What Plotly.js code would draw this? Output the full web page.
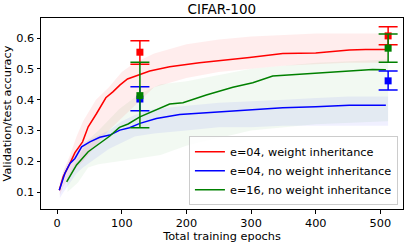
<!DOCTYPE html>
<html>
<head>
<meta charset="utf-8">
<script src="https://cdn.plot.ly/plotly-3.0.1.min.js"></script>
<style>html,body{margin:0;padding:0;background:#fff}#chart{width:407px;height:244px}</style>
</head>
<body>
<div id="chart"></div>
<script>
// Mean curves
const redX = [3.3, 9.4, 19.8, 27.5, 39.3, 48, 61, 75.3, 86.6, 96.9, 108.8, 122.7, 143.2, 174, 220, 297.5, 349, 400, 452, 477, 508.5];
const redY = [0.106, 0.150, 0.193, 0.228, 0.263, 0.312, 0.355, 0.406, 0.426, 0.447, 0.467, 0.477, 0.493, 0.507, 0.520, 0.537, 0.550, 0.551, 0.561, 0.563, 0.563];
const blueX = [3.3, 12, 19.8, 27.5, 37.8, 50.6, 66, 81.5, 97, 112, 128, 153.5, 189.5, 246, 302.6, 349, 400, 452, 508.5];
const blueY = [0.106, 0.161, 0.193, 0.209, 0.247, 0.263, 0.278, 0.285, 0.301, 0.309, 0.323, 0.339, 0.352, 0.359, 0.368, 0.374, 0.377, 0.382, 0.382];
const greenX = [14.7, 30, 48, 66, 81.5, 96.3, 109.8, 128, 153.5, 174, 194.6, 230.7, 271.8, 302.6, 333.5, 374.7, 400, 452, 487.8, 508.5];
const greenY = [0.133, 0.188, 0.231, 0.258, 0.282, 0.310, 0.321, 0.344, 0.366, 0.386, 0.390, 0.415, 0.440, 0.455, 0.477, 0.483, 0.487, 0.493, 0.498, 0.497];

// Spread of individual runs (faint clouds)
const cloudX = [4, 10, 20, 30, 40, 60, 80, 100, 120, 150, 200, 250, 300, 350, 400, 450, 512];
const redUpper = [0.12, 0.17, 0.22, 0.28, 0.33, 0.40, 0.44, 0.49, 0.52, 0.55, 0.58, 0.595, 0.605, 0.61, 0.615, 0.615, 0.615];
const redLower = [0.09, 0.12, 0.15, 0.18, 0.20, 0.25, 0.30, 0.34, 0.38, 0.44, 0.47, 0.49, 0.50, 0.51, 0.515, 0.52, 0.52];
const blueUpper = [0.13, 0.17, 0.21, 0.24, 0.26, 0.28, 0.30, 0.33, 0.35, 0.37, 0.38, 0.39, 0.395, 0.40, 0.405, 0.41, 0.41];
const blueLower = [0.08, 0.10, 0.13, 0.16, 0.18, 0.21, 0.24, 0.26, 0.28, 0.29, 0.30, 0.31, 0.31, 0.315, 0.315, 0.315, 0.315];
const greenCloudX = [16, 32, 48, 64, 96, 128, 160, 200, 300, 400, 512];
const greenUpper = [0.15, 0.21, 0.27, 0.30, 0.37, 0.42, 0.45, 0.46, 0.50, 0.52, 0.53];
const greenLower = [0.10, 0.13, 0.18, 0.19, 0.20, 0.21, 0.22, 0.25, 0.30, 0.32, 0.33];

// Final validation/test points with error bars
const evalX = [128, 512];
const redEval = [0.554, 0.607];
const redErrUp = [0.037, 0.030];
const redErrDown = [0.039, 0.029];
const blueEval = [0.402, 0.461];
const blueErrUp = [0.040, 0.032];
const blueErrDown = [0.038, 0.030];
const greenEval = [0.413, 0.567];
const greenErrUp = [0.108, 0.046];
const greenErrDown = [0.104, 0.046];

const labels = ["e=04, weight inheritance", "e=04, no weight inheritance", "e=16, no weight inheritance"];
const colors = ["#ff0000", "#0000ff", "#008000"];

function band(x, lo, hi, color) {
  return {
    x: x.concat(x.slice().reverse()),
    y: hi.concat(lo.slice().reverse()),
    fill: "toself", fillcolor: color, mode: "none",
    line: {width: 0}, hoverinfo: "skip", showlegend: false, type: "scatter"
  };
}
function evalTrace(y, up, down, color) {
  return {
    x: evalX, y: y, mode: "markers", type: "scatter", showlegend: false,
    marker: {symbol: "square", size: 7, color: color},
    error_y: {type: "data", array: up, arrayminus: down, color: color, thickness: 1.5, width: 9.5}
  };
}

const traces = [
  band(greenCloudX, greenLower, greenUpper, "rgba(0,128,0,0.05)"),
  band(cloudX, blueLower, blueUpper, "rgba(0,0,255,0.06)"),
  band(cloudX, redLower, redUpper, "rgba(255,0,0,0.07)"),
  {x: redX, y: redY, mode: "lines", type: "scatter", name: labels[0], line: {color: colors[0], width: 1.5}},
  {x: blueX, y: blueY, mode: "lines", type: "scatter", name: labels[1], line: {color: colors[1], width: 1.5}},
  {x: greenX, y: greenY, mode: "lines", type: "scatter", name: labels[2], line: {color: colors[2], width: 1.5}},
  evalTrace(redEval, redErrUp, redErrDown, colors[0]),
  evalTrace(blueEval, blueErrUp, blueErrDown, colors[1]),
  evalTrace(greenEval, greenErrUp, greenErrDown, colors[2])
];

const font = "DejaVu Sans, sans-serif";
const fs = 11.3;
const layout = {
  width: 407, height: 244,
  margin: {l: 41, r: 4, t: 18, b: 35, pad: 0},
  paper_bgcolor: "#fff", plot_bgcolor: "#fff",
  font: {family: font, size: fs, color: "#000"},
  title: {text: "CIFAR-100", font: {family: font, size: 13.5, color: "#000"}, x: 0.545, xanchor: "center", y: 0.962, yanchor: "middle"},
  xaxis: {
    range: [-25, 535], tickvals: [0, 100, 200, 300, 400, 500], ticktext: ["0", "100", "200", "300", "400", "500"],
    ticks: "outside", ticklen: 3.5, tickcolor: "#000", tickwidth: 1,
    showline: true, linecolor: "#000", linewidth: 1, mirror: true, showgrid: false, zeroline: false,
    tickfont: {size: fs},
    title: {text: "Total training epochs", font: {size: fs}, standoff: 1}, automargin: false
  },
  yaxis: {
    range: [0.045, 0.665], tickvals: [0.1, 0.2, 0.3, 0.4, 0.5, 0.6], ticktext: ["0.1", "0.2", "0.3", "0.4", "0.5", "0.6"],
    ticks: "outside", ticklen: 3.5, tickcolor: "#000", tickwidth: 1,
    showline: true, linecolor: "#000", linewidth: 1, mirror: true, showgrid: false, zeroline: false,
    tickfont: {size: fs},
    title: {text: "Validation/test accuracy", font: {size: fs}, standoff: 2}, automargin: false
  },
  legend: {
    x: 0.986, y: 0.02, xanchor: "right", yanchor: "bottom",
    bgcolor: "rgba(255,255,255,0.85)", bordercolor: "#cccccc", borderwidth: 1,
    font: {size: fs}, tracegroupgap: 0
  },
  showlegend: true
};

Plotly.newPlot("chart", traces, layout, {staticPlot: true, displayModeBar: false});
</script>
</body>
</html>
